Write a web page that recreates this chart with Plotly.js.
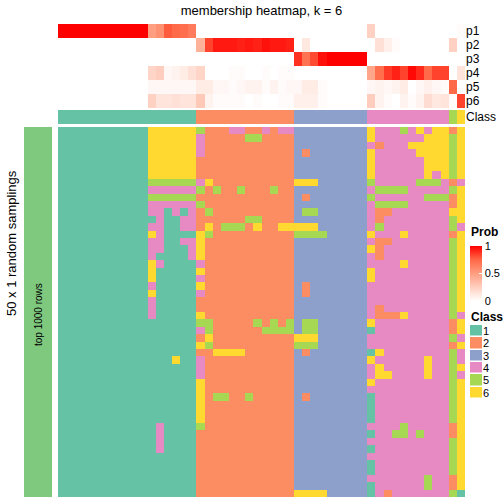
<!DOCTYPE html>
<html>
<head>
<meta charset="utf-8">
<script src="https://cdn.plot.ly/plotly-3.0.1.min.js"></script>
<style>html,body{margin:0;padding:0;background:#fff;}#chart{width:504px;height:504px;}</style>
</head>
<body>
<div id="chart"></div>
<script>
// class labels 1..6 for each of the 50 random samplings (rows) x 50 samples (columns)
const classRows = [
"11111111111"+"666666"+"522244224244"+"333333333"+"6444546466"+"2"+"6",
"11111111111"+"666666"+"422222552222"+"333333333"+"6444444666"+"5"+"6",
"11111111111"+"666666"+"422222222222"+"333333333"+"4244466666"+"5"+"6",
"11111111111"+"666666"+"422222222222"+"323333333"+"6444446666"+"5"+"6",
"11111111111"+"666666"+"222222222222"+"333333333"+"6444444666"+"5"+"6",
"11111111111"+"666666"+"222222222222"+"333333333"+"6444444666"+"5"+"6",
"11111111111"+"666666"+"222222222222"+"333333333"+"6444444646"+"5"+"6",
"11111111111"+"555555"+"462222222222"+"666333333"+"5444445554"+"2"+"4",
"11111111111"+"444444"+"525225222522"+"333333333"+"4555544444"+"5"+"6",
"11111111111"+"555555"+"222222222222"+"323333333"+"5444444555"+"2"+"6",
"11111111111"+"444444"+"522222222222"+"333333333"+"4555544444"+"2"+"6",
"11111111111"+"441414"+"252222222222"+"355333333"+"4224444444"+"6"+"6",
"11111111111"+"141144"+"222222552222"+"333333333"+"4244444444"+"5"+"6",
"11111111111"+"441144"+"262555262266"+"666333333"+"4544444444"+"5"+"4",
"11111111111"+"641111"+"652222222222"+"555533333"+"6444644444"+"2"+"6",
"11111111111"+"441144"+"622222222222"+"333333333"+"4224444444"+"5"+"6",
"11111111111"+"441114"+"622222222222"+"333333333"+"6244444444"+"5"+"6",
"11111111111"+"411114"+"622222222222"+"333333333"+"4244444444"+"5"+"6",
"11111111111"+"641111"+"422222222222"+"333333333"+"4444644444"+"5"+"6",
"11111111111"+"611111"+"622222222222"+"333333333"+"6444444444"+"5"+"6",
"11111111111"+"611111"+"422222222222"+"333333333"+"6444444444"+"5"+"6",
"11111111111"+"411111"+"622222222222"+"323333333"+"4444444444"+"5"+"6",
"11111111111"+"611111"+"422222222222"+"323333333"+"4444444444"+"5"+"6",
"11111111111"+"411111"+"222222222222"+"333333333"+"4444444444"+"5"+"6",
"11111111111"+"411111"+"222222222222"+"333333333"+"4244444444"+"5"+"6",
"11111111111"+"411111"+"622222222222"+"333333333"+"4222644444"+"5"+"4",
"11111111111"+"111111"+"552222252525"+"355333333"+"6444444444"+"2"+"6",
"11111111111"+"111111"+"452222225555"+"355333333"+"1444444444"+"2"+"6",
"11111111111"+"111111"+"262222222222"+"666333333"+"4444444444"+"5"+"4",
"11111111111"+"111111"+"652222222222"+"555333333"+"4444444444"+"2"+"6",
"11111111111"+"111111"+"226666222222"+"323333333"+"1644444444"+"5"+"4",
"11111111111"+"111611"+"422222222222"+"333333333"+"6444444644"+"5"+"4",
"11111111111"+"111111"+"422222222222"+"333333333"+"4644444644"+"5"+"6",
"11111111111"+"111111"+"422222222222"+"333333333"+"4664444644"+"5"+"4",
"11111111111"+"111111"+"622222222222"+"333333333"+"6444444444"+"5"+"6",
"11111111111"+"111111"+"622222222222"+"333333333"+"4444444444"+"5"+"6",
"11111111111"+"111111"+"625522522222"+"323333333"+"1444444444"+"5"+"6",
"11111111111"+"111111"+"622222222222"+"333333333"+"1444444444"+"5"+"6",
"11111111111"+"111111"+"622222222222"+"333333333"+"1444444444"+"5"+"6",
"11111111111"+"111111"+"622222222222"+"333333333"+"1444444444"+"5"+"6",
"11111111111"+"141111"+"522222222222"+"333333333"+"4444544444"+"2"+"6",
"11111111111"+"141111"+"222222222222"+"333333333"+"1445545444"+"2"+"6",
"11111111111"+"141111"+"222222222222"+"333333333"+"4444444444"+"5"+"6",
"11111111111"+"141111"+"222222222222"+"333333333"+"1444444444"+"5"+"6",
"11111111111"+"111111"+"222222222222"+"333333333"+"4444444444"+"5"+"6",
"11111111111"+"111111"+"222222222222"+"333333333"+"1444444444"+"5"+"6",
"11111111111"+"111111"+"222222222222"+"333333333"+"1444444444"+"5"+"6",
"11111111111"+"111111"+"222222222222"+"333333333"+"4444444544"+"2"+"6",
"11111111111"+"111111"+"222222222222"+"333333333"+"1444444544"+"2"+"6",
"11111111111"+"111111"+"222222222222"+"666633333"+"1424444444"+"5"+"1"
];
// consensus class of each sample (column)
const sampleClass = "11111111111111111"+"222222222222"+"333333333"+"4444444444"+"5"+"6";

// membership probabilities
const p1 = [1,1,1,1,1,1,1,1,1,1,1, .50,.56,.78,.74,.72,.66, 0,0,0,0,0,0,0,0,0,0,0,0, 0,0,0,0,0,0,0,0,0, .24,0,0,0,0,0,0,0,0,0, 0,.02];
const p2 = [0,0,0,0,0,0,0,0,0,0,0, 0,0,0,0,0,0, .40,.84,.94,.94,.94,.92,.94,.92,.96,.94,.94,.92, 0,.12,0,0,0,0,0,0,0, 0,.16,.08,.02,0,0,0,0,0,0, .24,0];
const p3 = [0,0,0,0,0,0,0,0,0,0,0, 0,0,0,0,0,0, 0,0,0,0,0,0,0,0,0,0,0,0, .88,.70,.82,.96,1,1,1,1,1, 0,0,0,0,0,0,0,0,0,0, 0,0];
const p4 = [0,0,0,0,0,0,0,0,0,0,0, .22,.26,.04,.06,.10,.16, .22,0,0,0,.02,.02,0,0,.02,0,.02,.02, 0,0,0,0,0,0,0,0,0, .46,.72,.86,.92,.84,.98,.90,.74,.84,.84, 0,.14];
const p5 = [0,0,0,0,0,0,0,0,0,0,0, .04,.04,.04,.04,.04,.04, .10,.10,.04,.04,.02,.04,.06,.06,.02,.06,.02,.04, .04,.10,.10,.02,0,0,0,0,0, .04,.06,.04,.06,.10,0,.04,.08,.04,.02, .74,0];
const p6 = [0,0,0,0,0,0,0,0,0,0,0, .24,.14,.14,.16,.14,.14, .28,.06,.02,.02,.02,.02,0,.02,0,0,.02,.02, .08,.08,.08,.02,0,0,0,0,0, .26,.06,.02,0,.06,.02,.06,.18,.12,.14, .02,.84];
const probLabels = ["p1","p2","p3","p4","p5","p6"];
const classLabels = ["1","2","3","4","5","6"];
const classColors = ["#66C2A5","#FC8D62","#8DA0CB","#E78AC3","#A6D854","#FFD92F"];

const W = 504, H = 504;
const px = v => v / W;
const py = v => 1 - v / H;

const classMatrix = classRows.map(r => r.split("").map(Number));
const sampleRow = [sampleClass.split("").map(Number)];
const cols = classMatrix[0].map((_, i) => i);

const discrete = [];
classColors.forEach((c, i) => { discrete.push([i / 6, c]); discrete.push([(i + 1) / 6, c]); });
const probScale = [[0,"#FFFFFF"],[0.25,"rgb(255,207,191)"],[0.5,"rgb(255,158,129)"],[0.75,"rgb(255,104,70)"],[1,"#FF0000"]];

const font = "Liberation Sans, Arial, Helvetica, sans-serif";

const traces = [
  {type:"heatmap", z: classMatrix, x: cols, xaxis:"x", yaxis:"y", colorscale: discrete, zmin:0.5, zmax:6.5, showscale:false, hoverinfo:"skip"},
  {type:"heatmap", z: [p1,p2,p3,p4,p5,p6], x: cols, xaxis:"x", yaxis:"y2", colorscale: probScale, zmin:0, zmax:1, hoverinfo:"skip",
   colorbar:{x:px(470), xanchor:"left", y:py(246), yanchor:"top", len:55, lenmode:"pixels", thickness:12, thicknessmode:"pixels",
     outlinewidth:0, xpad:0, ypad:0, tickvals:[0,0.5,1], ticktext:["0","0.5","1"], ticks:"inside", ticklen:3, tickcolor:"#FFFFFF",
     tickfont:{family:font, size:11, color:"#000"}}},
  {type:"heatmap", z: sampleRow, x: cols, xaxis:"x", yaxis:"y3", colorscale: discrete, zmin:0.5, zmax:6.5, showscale:false, hoverinfo:"skip"},
  {type:"heatmap", z: classMatrix.map(() => [1]), xaxis:"x2", yaxis:"y", colorscale:[[0,"#7FC97F"],[1,"#7FC97F"]], showscale:false, hoverinfo:"skip"},
  {type:"heatmap", z: classLabels.map(c => [Number(c)]), xaxis:"x3", yaxis:"y4", colorscale: discrete, zmin:0.5, zmax:6.5, showscale:false, ygap:1.5, hoverinfo:"skip"}
];

const hid = {visible:false, fixedrange:true, showgrid:false, zeroline:false};
const lab = (vals, text, size) => ({tickvals: vals, ticktext: text, side:"right", showgrid:false, zeroline:false, showline:false, ticks:"",
  tickfont:{family:font, size:size, color:"#000"}, fixedrange:true});

const layout = {
  width: W, height: H, margin:{l:0,r:0,t:0,b:0}, paper_bgcolor:"#fff", plot_bgcolor:"#fff",
  title:{text:"membership heatmap, k = 6", x:px(261.5), xanchor:"center", y:py(10), yanchor:"middle", font:{family:font, size:13, color:"#000"}},
  xaxis: Object.assign({domain:[px(58), px(465)], range:[-0.5,49.5], anchor:"y"}, hid),
  yaxis: Object.assign({domain:[py(497), py(127)], range:[49.5,-0.5], anchor:"x"}, hid),
  yaxis2: Object.assign({domain:[py(108), py(24)], range:[5.5,-0.5], anchor:"x"}, lab([0,1,2,3,4,5], probLabels, 12)),
  yaxis3: Object.assign({domain:[py(124), py(110)], range:[0.5,-0.5], anchor:"x"}, lab([0], ["Class"], 12)),
  xaxis2: Object.assign({domain:[px(24), px(52)], range:[-0.5,0.5], anchor:"y"}, hid),
  xaxis3: Object.assign({domain:[px(470), px(482)], range:[-0.5,0.5], anchor:"y4"}, hid),
  yaxis4: Object.assign({domain:[py(399), py(325)], range:[5.5,-0.5], anchor:"x3"}, lab([0,1,2,3,4,5], classLabels, 11)),
  annotations:[
    {text:"50 x 1 random samplings", xref:"paper", yref:"paper", x:px(11), y:py(243), textangle:-90, showarrow:false,
     xanchor:"center", yanchor:"middle", font:{family:font, size:13, color:"#000"}},
    {text:"top 1000 rows", xref:"paper", yref:"paper", x:px(38), y:py(315), textangle:-90, showarrow:false,
     xanchor:"center", yanchor:"middle", font:{family:font, size:10, color:"#000"}},
    {text:"<b>Prob</b>", xref:"paper", yref:"paper", x:px(469), y:py(232), showarrow:false, xanchor:"left", yanchor:"middle",
     font:{family:font, size:12, color:"#000"}},
    {text:"<b>Class</b>", xref:"paper", yref:"paper", x:px(469), y:py(317), showarrow:false, xanchor:"left", yanchor:"middle",
     font:{family:font, size:12, color:"#000"}}
  ]
};

Plotly.newPlot("chart", traces, layout, {staticPlot:true, displayModeBar:false});
</script>
</body>
</html>
